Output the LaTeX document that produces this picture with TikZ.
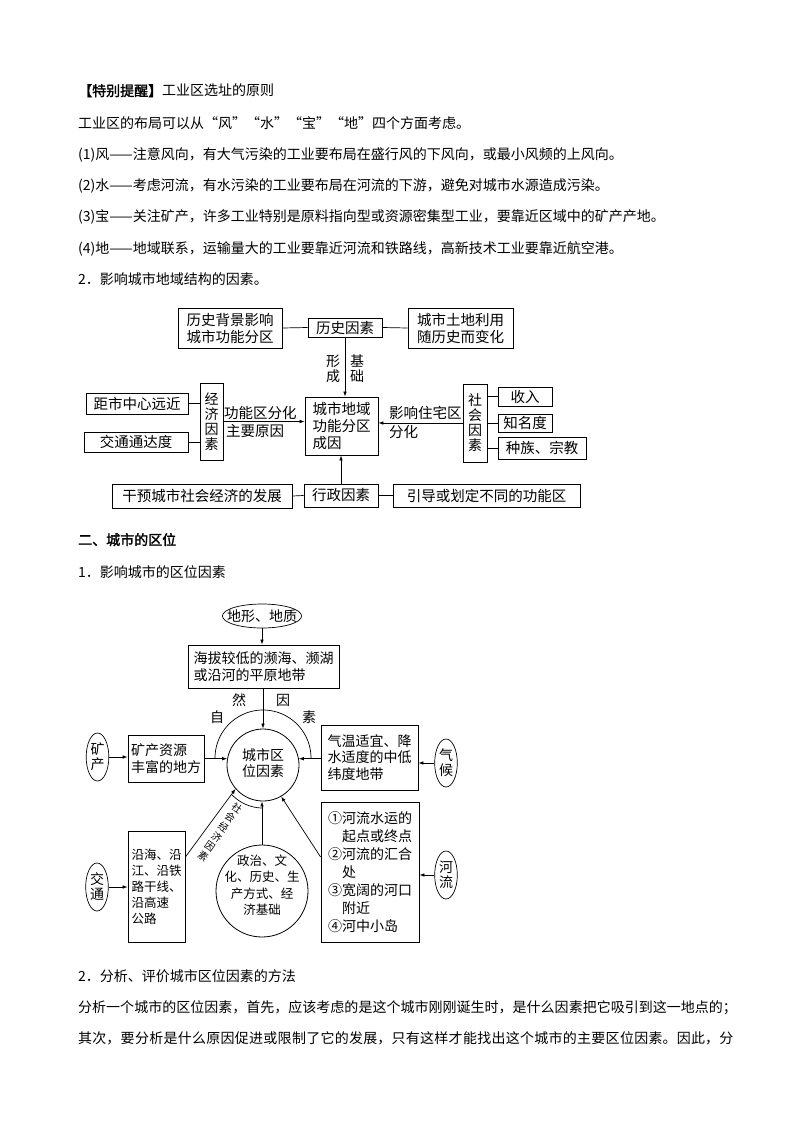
\documentclass[tikz,border=0pt]{standalone}
\usepackage{fontspec}
\setmainfont{Noto Sans CJK SC}[AutoFakeBold=2]
\usetikzlibrary{arrows.meta,shapes.geometric}
\XeTeXlinebreaklocale "zh"
\XeTeXlinebreakskip=0pt plus 2pt minus 0.1pt
\newcommand\bodyf{\fontsize{14}{16}\selectfont}
\newcommand\fa{\fontsize{14.5}{17}\selectfont}
\newcommand\fb{\fontsize{14}{16.5}\selectfont}
\newcommand\fv{\fontsize{14}{15}\selectfont}
\begin{document}
\begin{tikzpicture}[x=1pt,y=-1pt,
  txt/.style={anchor=base west, inner sep=0pt, font=\bodyf},
  box/.style={draw, line width=0.8pt, inner sep=1.5pt, align=left, font=\fa},
  boxb/.style={box, font=\fb},
  vbox/.style={box, align=center, font=\fv},
  lbl/.style={inner sep=0pt, align=center, font=\fv},
  lblw/.style={inner sep=0pt, anchor=west, font=\fa},
  ell/.style={draw, ellipse, line width=0.7pt, inner sep=1pt, minimum width=22pt, minimum height=48pt, align=center, font=\fv},
  cnode/.style={draw, circle, line width=0.8pt, inner sep=0pt},
  ln/.style={line width=0.7pt},
  arr/.style={line width=0.7pt, -{Latex[length=5pt,width=3.6pt]}}]
\fill[white] (0,0) rectangle (794,1123);
\useasboundingbox (0,0) rectangle (794,1123);

% ---------- text at top ----------
\node[txt] (t1) at (78,96) {{\bfseries 【特别提醒】}工业区选址的原则};
\node[txt] (t2) at (78,129) {工业区的布局可以从“风”“水”“宝”“地”四个方面考虑。};
\node[txt] (t3) at (78,160) {(1)风——注意风向，有大气污染的工业要布局在盛行风的下风向，或最小风频的上风向。};
\node[txt] (t4) at (78,191) {(2)水——考虑河流，有水污染的工业要布局在河流的下游，避免对城市水源造成污染。};
\node[txt] (t5) at (78,222) {(3)宝——关注矿产，许多工业特别是原料指向型或资源密集型工业，要靠近区域中的矿产产地。};
\node[txt] (t6) at (78,253) {(4)地——地域联系，运输量大的工业要靠近河流和铁路线，高新技术工业要靠近航空港。};
\node[txt] (t7) at (78,284) {2．影响城市地域结构的因素。};

% ---------- diagram 1 ----------
\node[box, minimum width=104pt, minimum height=40pt] (hbg) at (230,328) {历史背景影响\\城市功能分区};
\node[box, minimum width=74pt, minimum height=19pt] (hist) at (345,327.5) {历史因素};
\node[box, minimum width=105pt, minimum height=40pt] (land) at (460.5,328) {城市土地利用\\随历史而变化};
\node[box, minimum width=73pt, minimum height=58pt] (cen) at (341.5,426) {城市地域\\功能分区\\成因};
\node[vbox, minimum width=23pt, minimum height=77pt] (econ) at (211.5,421.5) {经\\济\\因\\素};
\node[box, minimum width=102pt, minimum height=21pt] (dist) at (137,403.5) {距市中心远近};
\node[box, minimum width=104pt, minimum height=20pt] (traf) at (136,442) {交通通达度};
\node[vbox, minimum width=24pt, minimum height=78pt] (soc) at (475,423) {社\\会\\因\\素};
\node[box, minimum width=54pt, minimum height=19pt] (inc) at (525,396.5) {收入};
\node[box, minimum width=54pt, minimum height=18pt] (fame) at (525,423) {知名度};
\node[box, minimum width=88pt, minimum height=22pt] (race) at (542,448) {种族、宗教};
\node[box, minimum width=180pt, minimum height=24pt] (interv) at (202,496) {干预城市社会经济的发展};
\node[box, minimum width=74pt, minimum height=23pt] (admin) at (341,495.5) {行政因素};
\node[box, minimum width=187pt, minimum height=23pt] (guide) at (486.5,495.5) {引导或划定不同的功能区};

\node[lbl] (xc) at (333,369) {形\\成};
\node[lbl] (jc) at (357,369) {基\\础};
\node[lblw] (gn1) at (224,413) {功能区分化};
\node[lblw] (gn2) at (226,431) {主要原因};
\node[lblw] (yx1) at (389,413) {影响住宅区};
\node[lblw] (yx2) at (389,432) {分化};

\draw[ln] (hbg.east) -- (hist.west);
\draw[ln] (hist.east) -- (land.west);
\draw[arr] (hist.south) -- (hist.south |- cen.north);
\draw[ln] (dist.east) -- (dist.east -| econ.west);
\draw[ln] (traf.east) -- (traf.east -| econ.west);
\draw[arr] (econ.east) -- (econ.east -| cen.west);
\draw[arr] (soc.west) -- (soc.west -| cen.east);
\draw[ln] (inc.west -| soc.east) -- (inc.west);
\draw[ln] (fame.west -| soc.east) -- (fame.west);
\draw[ln] (race.west -| soc.east) -- (race.west);
\draw[ln] (interv.east) -- (admin.west);
\draw[ln] (admin.east) -- (guide.west);
\draw[arr] (admin.north) -- (admin.north |- cen.south);

% ---------- headings ----------
\node[txt] (h2) at (78,545) {\bfseries 二、城市的区位};
\node[txt] (t8) at (78,577) {1．影响城市的区位因素};

% ---------- diagram 2 ----------
\node[draw, ellipse, line width=0.7pt, inner xsep=-7pt, inner ysep=1pt, minimum height=24pt, font=\fb] (topo) at (262,616) {地形、地质};
\node[boxb, minimum width=151pt, minimum height=43pt] (plain) at (263.5,666.5) {海拔较低的濒海、濒湖\\或沿河的平原地带};
\node[cnode, minimum size=72pt] (city) at (263,765) {};
\node[lbl, font=\fb] (citytxt) at (263,763) {城市区\\位因素};
\node[ell] (kc) at (97.5,757) {矿\\产};
\node[boxb, minimum width=76pt, minimum height=47pt] (kbox) at (166,758.5) {矿产资源\\丰富的地方};
\node[boxb, minimum width=97pt, minimum height=65pt] (clim) at (369.5,757.5) {气温适宜、降\\水适度的中低\\纬度地带};
\node[ell] (qh) at (446,763) {气\\候};
\node[box, font=\fontsize{14}{18}\selectfont, minimum width=98pt, minimum height=140pt] (riv) at (370,872) {①河流水运的\\\phantom{①}起点或终点\\②河流的汇合\\\phantom{①}处\\③宽阔的河口\\\phantom{①}附近\\④河中小岛};
\node[ell] (hl) at (446,875) {河\\流};
\node[ell] (jt) at (97,887) {交\\通};
\node[box, font=\fontsize{12.5}{16}\selectfont, minimum width=57pt, minimum height=111pt] (coast) at (156.5,886.5) {沿海、沿\\江、沿铁\\路干线、\\沿高速\\公路};
\node[cnode, minimum size=92pt] (pol) at (262,891) {};
\node[lbl, font=\fontsize{12.5}{16.5}\selectfont] (poltxt) at (262,885) {政治、文\\化、历史、生\\产方式、经\\济基础};

% arcs
\draw[ln] plot[domain=180:360, samples=60, smooth] ({263+48*cos(\x)}, {758+48*sin(\x)});
\draw[ln] plot[domain=90:136, samples=20, smooth] ({263+43*cos(\x)}, {765+43*sin(\x)});
\node[lbl, font=\fb] (zi) at (217,717) {自};
\node[lbl, font=\fb] (ran) at (239,700) {然};
\node[lbl, font=\fb] (yin) at (283,700) {因};
\node[lbl, font=\fb] (su) at (309,717) {素};
\node[lbl, font=\fontsize{10}{11.8}\selectfont, rotate=-35] (shjj) at (220,832) {社\\会\\经\\济\\因\\素};

% connectors
\draw[arr] (topo.south) -- (topo.south |- plain.north);
\draw[arr] (city.north |- plain.south) -- (city.north);
\draw[arr] (kc.east) -- (kc.east -| kbox.west);
\draw[arr] (kbox.east |- city.170) -- (city.170);
\draw[arr] (qh.west) -- (qh.west -| clim.east);
\draw[arr] (city.10 -| clim.west) -- (city.10);
\draw[arr] (hl.west) -- (hl.west -| riv.east);
\draw[arr] ([yshift=15pt]riv.west) -- (city.-60);
\draw[arr] (jt.east) -- (jt.east -| coast.west);
\draw[arr] ([yshift=29.5pt]coast.east) -- (city.221);
\draw[arr] (pol.north) -- (pol.north |- city.south);

% ---------- bottom text ----------
\node[txt] (t9) at (78,981) {2．分析、评价城市区位因素的方法};
\node[txt, text width=659pt] (p1) at (78,1012) {\parfillskip=0pt 分析一个城市的区位因素，首先，应该考虑的是这个城市刚刚诞生时，是什么因素把它吸引到这一地点的；\par};
\node[txt, text width=659pt] (p2) at (78,1043) {\parfillskip=0pt 其次，要分析是什么原因促进或限制了它的发展，只有这样才能找出这个城市的主要区位因素。因此，分\par};
\end{tikzpicture}
\end{document}
